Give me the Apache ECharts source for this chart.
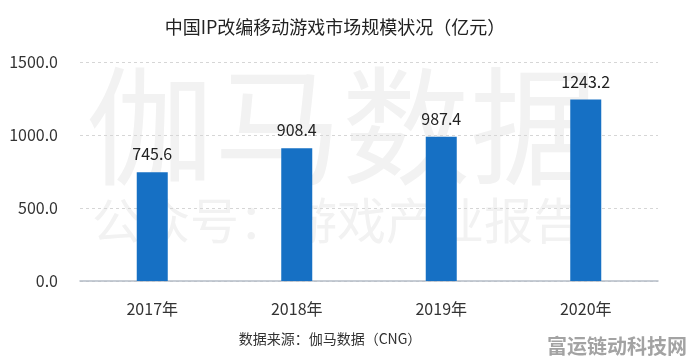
<!DOCTYPE html>
<html><head><meta charset="utf-8">
<script src="https://cdn.jsdelivr.net/npm/echarts@6/dist/echarts.min.js"></script>
<style>html,body{margin:0;padding:0;background:#fff}#c{width:696px;height:364px}</style>
</head><body><div id="c"></div>
<script>
const categories = ['2017年', '2018年', '2019年', '2020年'];
const values = [745.6, 908.4, 987.4, 1243.2];
const yTicks = [0, 500, 1000, 1500];
const titleText = '中国IP改编移动游戏市场规模状况（亿元）';
const sourceText = '数据来源：伽马数据（CNG）';

const font = '"Noto Sans CJK SC","Noto Sans",sans-serif';
const chart = echarts.init(document.getElementById('c'));
chart.setOption({
  backgroundColor: '#fff',
  animation: false,
  graphic: [
    {type:'text', x: 86, y: 62, z: 0, style:{text:'伽马数据', fontSize:128, fontFamily:font, fill:'#f2f2f2'}},
    {type:'text', x: 92, y: 196, z: 0, style:{text:'公众号：游戏产业报告', fontSize:49, fontFamily:font, fill:'#f2f2f2'}},
    {type:'text', x: 335, y: 27, style:{text:titleText, fontSize:18, fontFamily:font, fill:'#222', align:'center', verticalAlign:'middle'}},
    {type:'text', x: 330, y: 339, style:{text:sourceText, fontSize:14, fontFamily:font, fill:'#333', align:'center', verticalAlign:'middle'}},
    {type:'text', x: 547, y: 346, style:{text:'富运链动科技网', fontSize:20, fontWeight:'bold', fontFamily:font, fill:'#a3a3a3', verticalAlign:'middle'}}
  ],
  grid: {left: 80, right: 38, top: 62, bottom: 83},
  xAxis: {
    type: 'category', data: categories,
    axisLine: {lineStyle: {color: '#b4bcc6', width: 1.5}},
    axisTick: {show: false},
    axisLabel: {fontSize: 16, color: '#333', margin: 20, fontFamily: font}
  },
  yAxis: {
    type: 'value', min: yTicks[0], max: yTicks[yTicks.length-1], interval: 500,
    axisLine: {show: false}, axisTick: {show: false},
    axisLabel: {fontSize: 16, color: '#333', margin: 22, fontFamily: font, formatter: v => v.toFixed(1)},
    splitLine: {lineStyle: {color: '#d6d6d6', type: [3, 3]}}
  },
  series: [{
    type: 'bar', data: values, barWidth: 31,
    itemStyle: {color: '#1670c4'},
    label: {show: true, position: 'top', distance: 10, fontSize: 16, color: '#222', fontFamily: font, formatter: p => p.value.toFixed(1)}
  }]
});
</script></body></html>
